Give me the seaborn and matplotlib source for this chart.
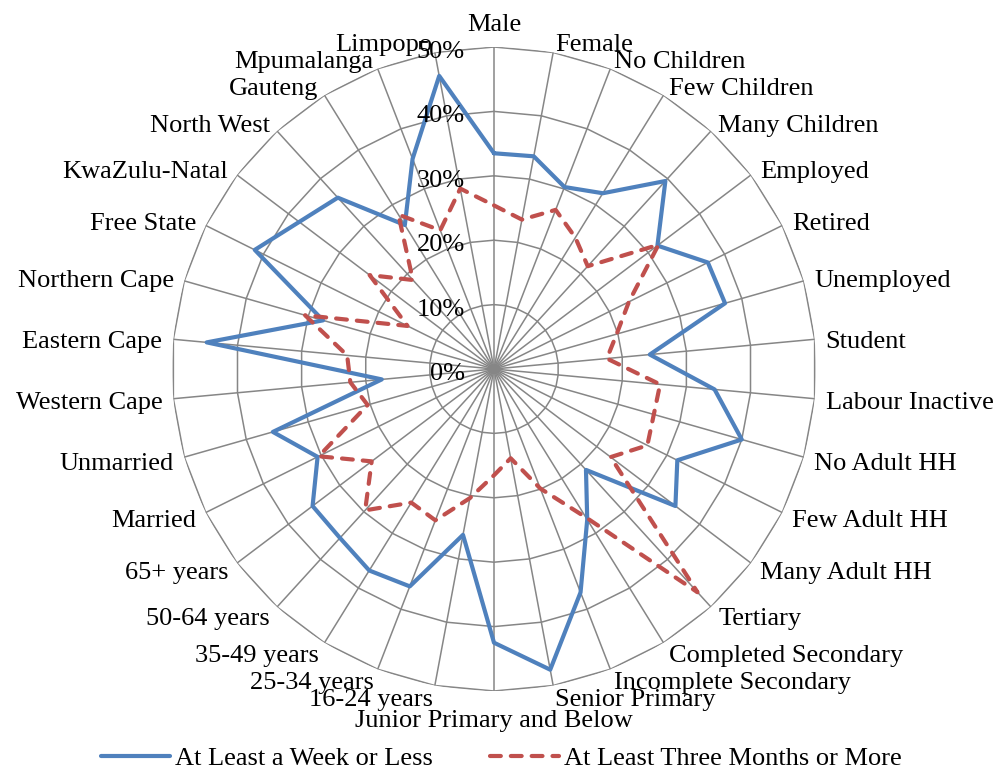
import numpy as np
import pandas as pd
import matplotlib
matplotlib.use("Agg")
import matplotlib.pyplot as plt
from matplotlib.lines import Line2D
import seaborn as sns

categories = [
    "Male", "Female", "No Children", "Few Children", "Many Children",
    "Employed", "Retired", "Unemployed", "Student", "Labour Inactive",
    "No Adult HH", "Few Adult HH", "Many Adult HH", "Tertiary",
    "Completed Secondary", "Incomplete Secondary", "Senior Primary",
    "Junior Primary and Below", "16-24 years", "25-34 years", "35-49 years",
    "50-64 years", "65+ years", "Married", "Unmarried", "Western Cape",
    "Eastern Cape", "Northern Cape", "Free State", "KwaZulu-Natal",
    "North West", "Gauteng", "Mpumalanga", "Limpopo",
]
week_or_less = [
    33.5, 33.6, 30.3, 32.1, 39.5, 31.8, 37.1, 37.3, 24.3, 34.4,
    40.0, 31.8, 35.3, 21.2, 27.5, 37.2, 47.5, 42.5, 26.2, 36.2,
    36.8, 35.5, 35.3, 30.6, 35.7, 17.5, 44.8, 27.6, 41.5, 37.9,
    36.0, 26.3, 35.0, 46.3,
]
three_months_plus = [
    25.4, 23.6, 26.5, 24.0, 21.6, 32.0, 23.4, 19.8, 17.6, 25.9,
    25.8, 26.6, 22.7, 46.9, 27.1, 19.9, 14.1, 16.5, 20.4, 25.2,
    24.4, 29.7, 23.8, 30.4, 20.4, 22.4, 22.9, 30.5, 15.0, 24.2,
    18.7, 28.2, 23.1, 28.5,
]
series_names = ["At Least a Week or Less", "At Least Three Months or More"]
ring_values = [0, 10, 20, 30, 40, 50]
ring_labels = ["0%", "10%", "20%", "30%", "40%", "50%"]

sns.set_theme(style="white")
plt.rcParams["font.family"] = ["Liberation Serif", "DejaVu Serif"]
plt.rcParams["text.color"] = "black"

BLUE = "#4F81BD"
RED = "#C0504D"
GRID = "#868686"
FS = 19
PX = 72 / 100  # pixels -> points

n = len(categories)
theta = np.linspace(0, 2 * np.pi, n, endpoint=False)
theta_closed = np.append(theta, 2 * np.pi)

# long form table, first point repeated to close each polygon
df = pd.concat([
    pd.DataFrame({"theta": theta_closed,
                  "value": vals + vals[:1],
                  "series": name})
    for name, vals in zip(series_names, [week_or_less, three_months_plus])
], ignore_index=True)

fig = plt.figure(figsize=(10.03, 7.71), dpi=100)
ax = fig.add_axes([172 / 1003, 80 / 771, 644 / 1003, 644 / 771], projection="polar")
ax.set_theta_offset(np.pi / 2)
ax.set_theta_direction(-1)

# polygon grid + spokes like the excel radar
for r in ring_values[1:]:
    ax.plot(theta_closed, np.full(n + 1, r), color=GRID, lw=1.1, zorder=1)
for t in theta:
    ax.plot([t, t], [0, ring_values[-1]], color=GRID, lw=1.1, zorder=1)

sns.lineplot(
    data=df, x="theta", y="value", hue="series", style="series",
    palette={series_names[0]: BLUE, series_names[1]: RED},
    dashes={series_names[0]: "", series_names[1]: (2.6, 2.4)},
    sort=False, estimator=None, legend=False, ax=ax, lw=3.0,
    dash_capstyle="round", solid_capstyle="round", solid_joinstyle="round",
    zorder=3,
)

ax.set_ylim(0, ring_values[-1])
ax.set_xlabel("")
ax.set_ylabel("")
ax.grid(False)
ax.set_xticks([])
ax.set_yticks([])
ax.spines["polar"].set_visible(False)
ax.patch.set_alpha(0)

for t, lab in zip(theta, categories):
    s, c = np.sin(t), np.cos(t)
    if abs(s) < 1e-6:
        ha = "center"
        va, dy = ("bottom", 11) if c > 0 else ("top", -19)
    else:
        ha, va = ("left" if s > 0 else "right"), "center"
        dy = 11 * c - 3.5
    ax.annotate(lab, xy=(t, ring_values[-1]), xytext=(11 * s * PX, dy * PX),
                textcoords="offset points", ha=ha, va=va, fontsize=FS,
                annotation_clip=False)

for r, lab in zip(ring_values, ring_labels):
    ax.annotate(lab, xy=(0, r), xytext=(-29 * PX, -5 * PX),
                textcoords="offset points", ha="right", va="center",
                fontsize=FS, zorder=4)

handles = [
    Line2D([], [], color=BLUE, lw=3.0, solid_capstyle="round"),
    Line2D([], [], color=RED, lw=3.0, linestyle=(0, (2.6, 2.4)), dash_capstyle="round"),
]
fig.legend(handles, series_names, loc="lower center", bbox_to_anchor=(0.5, -0.03),
           ncol=2, frameon=False, fontsize=FS, handlelength=2.6,
           handletextpad=0.22, columnspacing=2.15)

fig.savefig("out.png", dpi=100)
